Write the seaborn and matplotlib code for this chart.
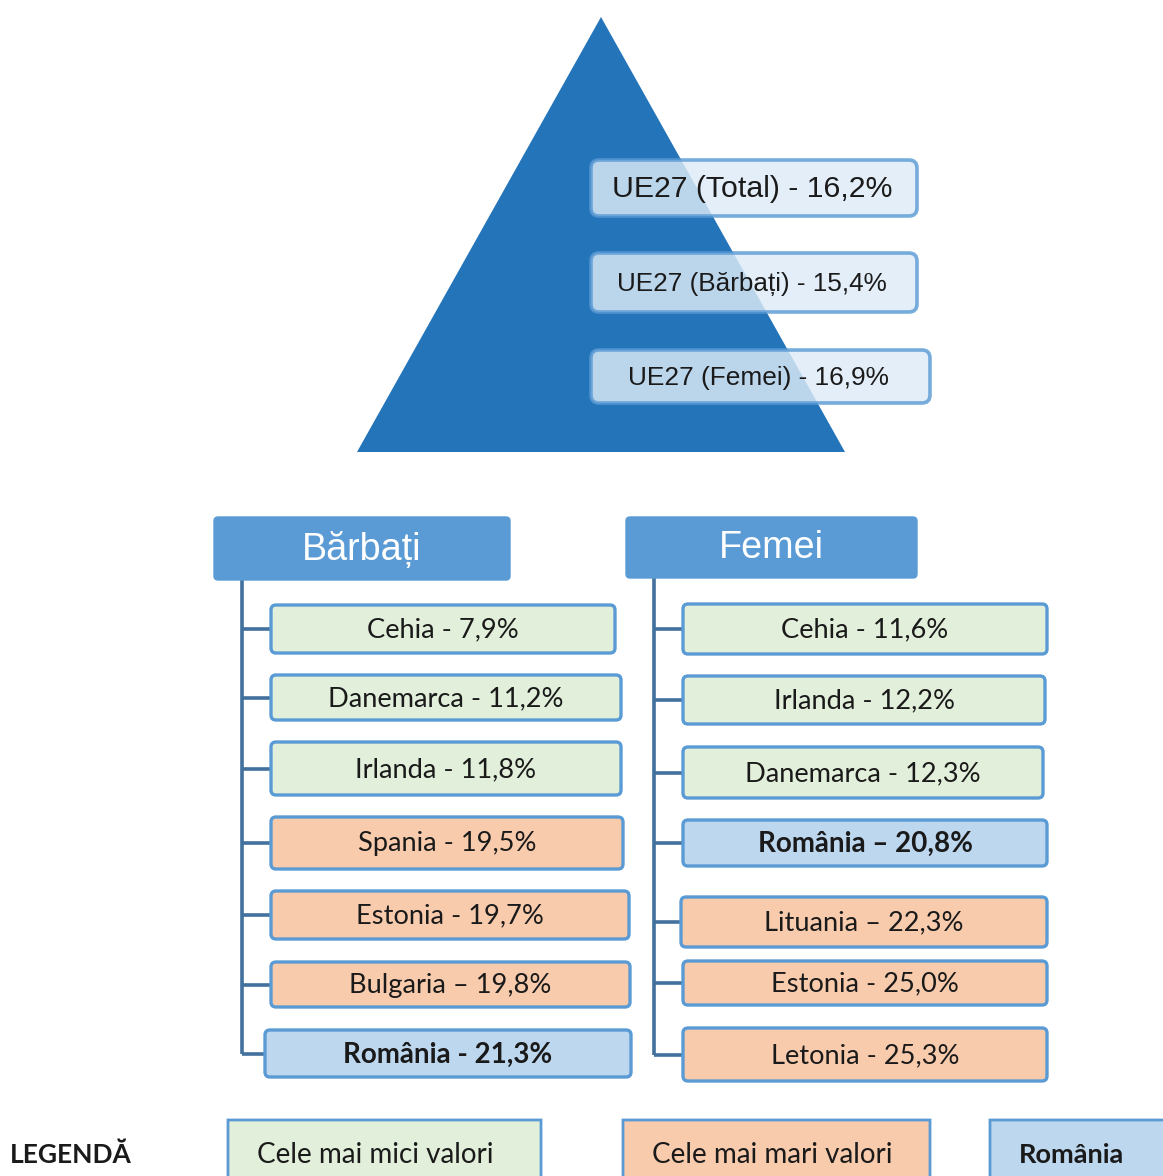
import matplotlib
matplotlib.use("Agg")
import matplotlib.pyplot as plt
from matplotlib.patches import FancyBboxPatch, Polygon
import seaborn as sns

# ---- date ----
ue27_grup = ["Total", "Bărbați", "Femei"]
ue27_val = [16.2, 15.4, 16.9]

barbati_tari = ["Cehia", "Danemarca", "Irlanda", "Spania", "Estonia", "Bulgaria", "România"]
barbati_val = [7.9, 11.2, 11.8, 19.5, 19.7, 19.8, 21.3]
barbati_sep = ["-", "-", "-", "-", "-", "–", "-"]
barbati_cat = ["mic", "mic", "mic", "mare", "mare", "mare", "ro"]

femei_tari = ["Cehia", "Irlanda", "Danemarca", "România", "Lituania", "Estonia", "Letonia"]
femei_val = [11.6, 12.2, 12.3, 20.8, 22.3, 25.0, 25.3]
femei_sep = ["-", "-", "-", "–", "–", "-", "-"]
femei_cat = ["mic", "mic", "mic", "ro", "mare", "mare", "mare"]

legenda_text = ["Cele mai mici valori", "Cele mai mari valori", "România"]
legenda_cat = ["mic", "mare", "ro"]

# ---- stil ----
culori = {"mic": "#E2EFDA", "mare": "#F8CBAD", "ro": "#BDD7EE"}
EDGE = "#5B9BD5"
TRUNK = "#41719C"
PIRAMIDA = "#2474B9"
CALIBRI = ["Lato", "DejaVu Sans"]
ARIAL = ["Liberation Sans", "DejaVu Sans"]

sns.set_theme(style="white")
plt.rcParams["font.family"] = CALIBRI


def fmt(v):
    return f"{v:.1f}".replace(".", ",") + "%"


def caseta(ax, x0, y0, x1, y1, fc, ec=EDGE, lw=2.4, r=5, alpha=1.0, z=2):
    p = FancyBboxPatch((x0, y0), x1 - x0, y1 - y0,
                       boxstyle=f"round,pad=0,rounding_size={r}",
                       fc=fc, ec=ec, lw=lw, alpha=alpha, zorder=z)
    ax.add_patch(p)


fig = plt.figure(figsize=(11.63, 11.76), dpi=100)
ax = fig.add_axes([0, 0, 1, 1])
ax.set_xlim(0, 1163)
ax.set_ylim(1176, 0)
ax.axis("off")

# piramida
ax.add_patch(Polygon([(601, 17), (357, 452), (845, 452)], closed=True,
                     fc=PIRAMIDA, ec="none", zorder=1))
ue_boxes = [(591, 160, 917, 216), (591, 253, 917, 312), (591, 350, 930, 403)]
ue_size = [21.8, 18.8, 18.9]
for (x0, y0, x1, y1), g, v, fs in zip(ue_boxes, ue27_grup, ue27_val, ue_size):
    caseta(ax, x0, y0, x1, y1, fc="#DDEBF7", ec="#5B9BD5", lw=2.6, r=8, alpha=0.82)
    ax.text((x0 + x1) / 2 - 2, (y0 + y1) / 2 + 1, f"UE27 ({g}) - {fmt(v)}",
            ha="center", va="center", fontsize=fs, color="#1a1a1a",
            family=ARIAL, zorder=3)

# coloane
coloane = [
    dict(titlu="Bărbați", hdr=(214, 517, 510, 580), trunk=242,
         tari=barbati_tari, val=barbati_val, sep=barbati_sep, cat=barbati_cat,
         boxes=[(271, 605, 615, 653), (271, 675, 621, 720), (271, 742, 621, 795),
                (271, 817, 623, 869), (271, 891, 629, 939), (271, 962, 630, 1007),
                (265, 1030, 631, 1077)]),
    dict(titlu="Femei", hdr=(626, 517, 917, 578), trunk=654,
         tari=femei_tari, val=femei_val, sep=femei_sep, cat=femei_cat,
         boxes=[(683, 604, 1047, 654), (683, 676, 1045, 724), (683, 747, 1043, 798),
                (683, 820, 1047, 866), (681, 897, 1047, 947), (683, 961, 1047, 1005),
                (683, 1028, 1047, 1081)]),
]

for col in coloane:
    x0, y0, x1, y1 = col["hdr"]
    caseta(ax, x0, y0, x1, y1, fc=EDGE, ec=EDGE, lw=1, r=4)
    ax.text((x0 + x1) / 2, (y0 + y1) / 2 + 1, col["titlu"], ha="center", va="center",
            fontsize=27.2, color="white", family=ARIAL, zorder=3)
    xt = col["trunk"]
    ymid = [(b[1] + b[3]) / 2 for b in col["boxes"]]
    ax.plot([xt, xt], [y1, ymid[-1]], color=TRUNK, lw=2.6, zorder=1,
            solid_capstyle="butt")
    for (bx0, by0, bx1, by1), t, v, s, c, ym in zip(col["boxes"], col["tari"], col["val"],
                                                   col["sep"], col["cat"], ymid):
        ax.plot([xt, bx0], [ym, ym], color=TRUNK, lw=2.6, zorder=1,
                solid_capstyle="butt")
        caseta(ax, bx0, by0, bx1, by1, fc=culori[c])
        bold = c == "ro"
        ax.text((bx0 + bx1) / 2, ym + 1, f"{t} {s} {fmt(v)}", ha="center", va="center",
                fontsize=20 if bold else 19.6, color="#1a1a1a",
                fontweight="bold" if bold else "normal", zorder=3)

# legenda
ax.text(10, 1155, "LEGENDĂ", ha="left", va="center", fontsize=19,
        fontweight="bold", color="#1a1a1a")
leg_boxes = [(228, 1120, 541, 1190), (623, 1120, 930, 1190), (990, 1120, 1175, 1190)]
leg_tx = [257, 652, 1019]
for (x0, y0, x1, y1), t, c, tx in zip(leg_boxes, legenda_text, legenda_cat, leg_tx):
    caseta(ax, x0, y0, x1, y1, fc=culori[c], lw=2.0, r=0)
    bold = c == "ro"
    ax.text(tx, 1155, t, ha="left", va="center", fontsize=19.5 if bold else 20,
            color="#1a1a1a", fontweight="bold" if bold else "normal", zorder=3)

fig.savefig("out.png", dpi=100)
